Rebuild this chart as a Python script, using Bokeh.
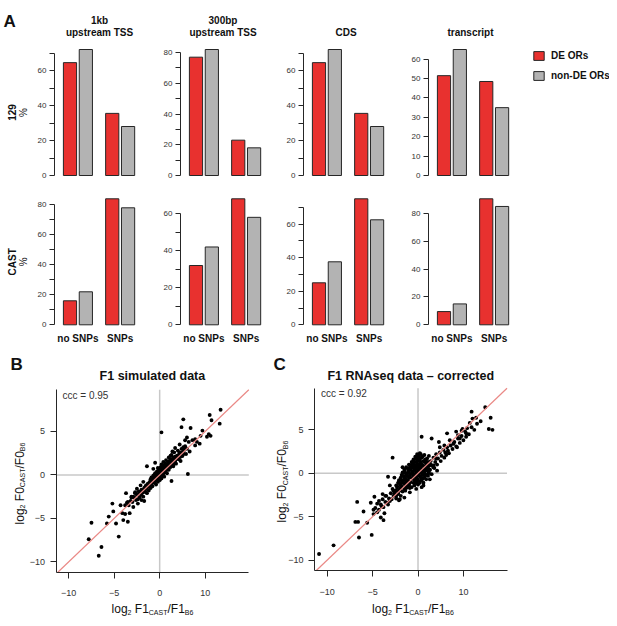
from math import pi
from bokeh.plotting import figure
from bokeh.layouts import column, row
from bokeh.models import FixedTicker, Range1d, Label, Legend, LegendItem
from bokeh.embed import file_html
from bokeh.resources import INLINE

# ---------------- data ----------------
region_titles = [["1kb", "upstream TSS"], ["300bp", "upstream TSS"], ["CDS"], ["transcript"]]
snp_labels = ["no SNPs", "SNPs"]
row_labels = ["129", "CAST"]
series_names = ["DE ORs", "non-DE ORs"]

# percentages: [no SNPs, SNPs] per region
de_129 = [[64.5, 35.5], [77, 23], [64.5, 35.5], [51.5, 48.5]]
nonde_129 = [[72, 28], [82, 18], [72, 28], [65, 35]]
de_cast = [[16, 84], [32, 68], [25, 75], [9.5, 90.5]]
nonde_cast = [[22, 78], [42, 58], [37.5, 62.5], [15, 85]]

yticks_129 = [[0, 20, 40, 60], [0, 20, 40, 60, 80], [0, 20, 40, 60], [0, 10, 20, 30, 40, 50, 60]]
yminor_129 = [[10, 30, 50, 70], [10, 30, 50, 70], [10, 30, 50, 70], []]
yticks_cast = [[0, 20, 40, 60, 80], [0, 20, 40, 60], [0, 20, 40, 60], [0, 20, 40, 60, 80]]
yminor_cast = [[10, 30, 50, 70], [10, 30, 50], [10, 30, 50, 70], []]

scatter_titles = ["F1 simulated data", "F1 RNAseq data \u2013 corrected"]
ccc_values = ["0.95", "0.92"]
scatter_ticks = [-10, -5, 0, 5]
scatter_xtick_labels = ["\u221210", "\u22125", "0", "10"]
scatter_ytick_labels = ["\u221210", "\u22125", "0", "5"]

# (log2 F1 ratio, log2 F0 ratio)
sim_points = [
    (6.7, 7.5), (5.5, 6.9), (5.7, 6.3), (6.6, 5.9), (2.6, 6.4), (0.2, 4.9), (2.4, 5.5), (3.4, 5.4),
    (4.7, 5.1), (5.4, 4.7), (5.2, 4.4), (5.6, 4.5), (4.5, 4.5), (3.9, 4.1), (3.0, 4.3), (2.8, 4.0),
    (3.2, 3.8), (3.6, 4.0), (4.1, 3.8), (4.4, 3.6), (3.9, 3.4), (3.3, 2.7), (2.6, 3.2), (2.2, 3.5),
    (1.7, 3.1), (1.4, 2.7), (1.2, 2.2), (2.2, 2.6), (2.5, 2.2), (3.1, 0.1), (1.3, -0.7), (2.1, 1.8),
    (1.7, 1.5), (1.0, 1.4), (0.6, 1.1), (-1.4, 1.0), (-0.7, 0.7), (-0.5, 1.4), (-1.8, -0.8),
    (-2.1, -1.2), (-2.5, -1.6), (-2.7, -2.0), (-3.7, -2.1), (-2.9, -2.5), (-3.1, -2.6), (-1.7, -3.0),
    (-2.4, -2.8), (-3.0, -3.1), (-3.5, -3.1), (-5.2, -3.3), (-4.3, -3.5), (-3.8, -3.5), (-5.1, -4.2),
    (-4.1, -4.4), (-3.8, -4.5), (-3.3, -4.4), (-2.9, -3.7), (-5.6, -4.8), (-4.0, -5.2), (-3.5, -5.4),
    (-5.8, -5.6), (-4.8, -5.6), (-7.5, -5.5), (-7.8, -7.4), (-4.5, -7.1), (-6.4, -8.3), (-6.7, -9.3),
    (-2.0, -2.3), (-2.0, -1.7), (-1.8, -2.0), (-1.7, -1.5), (-1.6, -1.9), (-1.5, -1.2), (-1.5, -1.6),
    (-1.4, -2.1), (-1.3, -1.0), (-1.3, -1.4), (-1.2, -1.8), (-1.1, -0.8), (-1.1, -1.2), (-1.0, -1.5),
    (-1.0, -0.5), (-0.9, -1.0), (-0.8, -0.3), (-0.8, -0.7), (-0.8, -1.3), (-0.7, -0.1), (-0.6, -0.5),
    (-0.6, -0.9), (-0.5, 0.2), (-0.5, -0.2), (-0.4, -0.6), (-0.4, -1.1), (-0.3, 0.4), (-0.3, 0.0),
    (-0.2, -0.4), (-0.2, -0.8), (-0.1, 0.6), (-0.1, 0.2), (0.0, -0.2), (0.0, -0.6), (0.1, 0.9),
    (0.1, 0.4), (0.2, 0.0), (0.2, -0.4), (0.3, 1.1), (0.3, 0.6), (0.4, 0.2), (0.4, 1.5), (0.5, 0.9),
    (0.5, -0.2), (0.6, 0.4), (0.6, 1.3), (0.7, 1.7), (0.7, 0.8), (0.8, 0.2), (0.9, 1.1), (0.9, 1.5),
    (1.0, 0.6), (1.0, 2.0), (1.1, 1.3), (1.2, 0.9), (1.2, 1.8), (1.3, 2.3), (1.4, 1.5), (1.5, 1.0),
    (1.5, 2.0), (1.6, 2.6), (1.7, 1.7), (1.8, 1.3), (1.9, 2.2), (2.0, 2.8), (2.1, 1.9), (2.2, 2.5),
    (2.3, 1.6), (2.4, 3.0), (2.5, 2.2), (2.6, 2.7), (2.8, 3.3), (2.9, 2.4), (3.0, 3.0),
    (-2.2, -2.6), (-2.3, -1.9), (-2.5, -2.3), (-2.6, -2.9), (-2.7, -2.1), (-2.8, -2.6), (-3.0, -3.1),
    (-3.1, -2.5), (-3.2, -3.0), (-2.0, -2.9), (-1.8, -2.5), (-2.4, -3.3), (-3.4, -3.5), (-3.6, -3.2),
    (-2.3, -2.2), (-2.1, -2.0), (-1.9, -1.8), (-1.7, -1.7), (-1.6, -1.4), (-1.4, -1.3), (-1.3, -1.2),
    (-1.2, -1.0), (-1.1, -1.0), (-1.0, -0.8), (-0.9, -0.7), (-0.9, -0.3), (-0.8, -0.5), (-0.7, -0.4),
    (-0.7, -0.8), (-0.6, -0.2), (-0.6, 0.0), (-0.5, -0.4), (-0.4, -0.2), (-0.4, 0.1), (-0.3, -0.2),
    (-0.3, 0.2), (-0.2, 0.0), (-0.2, 0.3), (-0.1, -0.1), (-0.1, 0.4), (0.0, 0.0), (0.0, 0.3),
    (0.1, 0.1), (0.1, 0.6), (0.2, 0.3), (0.2, 0.7), (0.3, 0.4), (0.3, 0.9), (0.4, 0.6), (0.5, 0.5),
    (0.5, 1.1), (0.6, 0.8), (0.7, 1.0), (0.8, 1.2), (0.8, 0.6), (0.9, 0.9), (1.0, 1.1), (1.1, 1.6),
    (1.2, 1.3), (1.3, 1.1), (1.4, 1.8), (1.5, 1.5), (1.6, 1.3), (1.7, 2.1), (1.8, 1.8), (2.0, 2.0),
    (2.1, 2.3), (2.3, 2.1), (2.4, 2.6), (2.6, 2.4), (2.7, 2.9), (-0.1, -0.4), (0.0, 0.7), (-0.2, 0.8),
    (0.2, 1.2), (-0.5, -0.7), (0.4, -0.1), (0.3, 0.0),
]

rna_points = [
    (-10.9, -9.3), (-9.3, -8.3), (-6.5, -7.4), (-5.1, -7.1), (-6.9, -5.6), (-6.6, -5.6), (-5.6, -5.7),
    (-6.7, -3.3), (-6.0, -4.4), (-5.2, -3.4), (-4.9, -4.2), (-4.8, -2.7), (-4.9, -4.7), (-4.5, -4.5),
    (-4.1, -5.1), (-3.8, -5.4), (-3.7, -4.6), (-4.0, -3.8), (-4.3, -3.2), (-3.9, -2.4), (-3.6, -2.6),
    (-3.4, -3.4), (-3.1, -3.2), (-2.8, 1.8), (-3.3, -0.4), (-2.6, -0.5), (-1.7, 0.7), (-1.5, 0.1),
    (-3.1, -1.4), (-2.7, -2.0), (-2.4, -2.6), (-2.0, -3.0), (-1.5, -2.8), (-0.9, -2.2), (-2.1, -1.0),
    (0.4, 4.2), (1.5, 4.0), (2.3, 3.6), (3.2, 4.6), (2.4, 3.0), (2.9, 3.2), (3.5, 3.8), (3.9, 3.4),
    (4.3, 3.0), (4.6, 4.0), (4.9, 5.1), (5.2, 4.8), (5.4, 5.2), (5.7, 5.8), (5.9, 7.1), (6.0, 6.3),
    (6.4, 6.4), (7.4, 7.6), (8.0, 6.4), (7.8, 5.1), (8.2, 5.0), (4.2, 4.8), (4.8, 4.9), (5.3, 4.2),
    (4.4, 4.4), (3.1, 2.1), (3.3, 2.6), (2.0, 1.7), (2.1, 0.3), (1.7, 0.9), (1.1, -0.1), (1.3, -0.7),
    (0.6, -1.4), (-0.2, -1.8),
    (-2.0, -1.9), (-2.0, -1.2), (-1.9, -0.7), (-1.8, -1.5), (-1.7, -2.1), (-1.7, -0.9), (-1.6, -0.3),
    (-1.5, -1.2), (-1.5, -1.8), (-1.4, -0.6), (-1.3, 0.0), (-1.3, -1.0), (-1.2, -1.6), (-1.2, -0.3),
    (-1.1, 0.4), (-1.1, -0.8), (-1.0, -1.3), (-1.0, 0.1), (-0.9, -0.5), (-0.9, 0.7), (-0.8, -1.0),
    (-0.8, -0.1), (-0.8, 0.4), (-0.7, -1.6), (-0.7, 1.0), (-0.6, -0.6), (-0.6, 0.2), (-0.5, 0.7),
    (-0.5, -0.2), (-0.5, -1.1), (-0.4, 1.3), (-0.4, 0.4), (-0.3, -0.4), (-0.3, -0.9), (-0.3, 0.9),
    (-0.2, 1.7), (-0.2, 0.1), (-0.1, -0.6), (-0.1, 0.5), (-0.1, 1.2), (0.0, -1.3), (0.0, 2.0),
    (0.0, -0.2), (0.1, 0.8), (0.1, 0.3), (0.1, 1.5), (0.2, -0.9), (0.2, -0.3), (0.2, 2.3), (0.3, 0.6),
    (0.3, 1.1), (0.4, -1.6), (0.4, 0.1), (0.4, 1.8), (0.5, -0.6), (0.5, 0.9), (0.6, 0.4), (0.6, 1.4),
    (0.6, -1.1), (0.7, 2.1), (0.8, -0.2), (0.8, 0.8), (0.9, 1.3), (0.9, -0.7), (1.0, 0.3), (1.0, 1.7),
    (1.1, -0.3), (1.2, 0.9), (1.2, 2.0), (1.3, 0.4), (1.4, 1.4), (1.5, -0.1), (1.5, 0.9), (1.7, 1.8),
    (1.8, 0.6), (1.9, 1.3), (2.0, 2.2), (2.1, 1.0), (2.2, 1.7), (2.4, 2.4), (2.5, 1.4), (2.6, 2.0),
    (2.8, 2.7), (2.9, 1.8), (3.0, 2.4), (3.2, 3.0), (3.4, 2.3), (3.6, 3.2), (3.8, 2.8), (4.0, 3.6),
    (4.2, 3.1), (4.4, 4.0), (4.6, 3.5), (4.8, 4.3), (5.0, 3.8), (5.3, 4.6), (5.6, 4.5), (5.9, 5.3),
    (6.2, 5.0), (6.5, 5.7), (6.9, 6.0),
    (-2.2, -2.4), (-2.3, -1.5), (-2.4, -2.9), (-2.5, -2.0), (-2.7, -2.6), (-2.8, -1.8), (-2.9, -3.0),
    (-3.0, -2.3), (-3.2, -2.9), (-3.3, -3.6), (-3.5, -2.6), (-3.6, -3.3), (-3.8, -3.9), (-3.9, -3.0),
    (-4.1, -3.6), (-4.3, -4.2), (-4.5, -3.5), (-4.7, -4.0), (-1.9, -2.6), (-2.1, -3.1),
    (-0.1, 2.2), (0.3, 2.2), (-0.3, 1.9), (0.1, 1.9), (0.5, 1.9), (-0.5, 1.6), (-0.1, 1.6),
    (0.2, 1.6), (0.8, 1.6), (-0.7, 1.3), (-0.2, 1.3), (0.3, 1.3), (0.7, 1.3), (1.1, 1.3),
    (-1.0, 1.0), (-0.5, 1.0), (0.0, 1.0), (0.4, 1.0), (0.9, 1.0), (1.4, 1.0), (-1.3, 0.7),
    (-0.7, 0.7), (-0.2, 0.7), (0.2, 0.7), (0.7, 0.7), (1.1, 0.7), (1.7, 0.7), (-1.5, 0.4),
    (-0.9, 0.4), (-0.4, 0.4), (0.0, 0.4), (0.5, 0.4), (0.9, 0.4), (1.3, 0.4), (-1.7, 0.1),
    (-1.1, 0.1), (-0.6, 0.1), (-0.2, 0.1), (0.3, 0.1), (0.7, 0.1), (1.2, 0.1), (-1.8, -0.2),
    (-1.3, -0.2), (-0.9, -0.2), (-0.4, -0.2), (0.1, -0.2), (0.5, -0.2), (1.0, -0.2), (-1.9, -0.5),
    (-1.5, -0.5), (-1.0, -0.5), (-0.6, -0.5), (-0.2, -0.5), (0.3, -0.5), (0.7, -0.5), (-2.1, -0.8),
    (-1.6, -0.8), (-1.2, -0.8), (-0.4, -0.8), (0.0, -0.8), (0.4, -0.8), (-2.2, -1.1), (-1.8, -1.1),
    (-1.3, -1.1), (-0.9, -1.1), (-0.2, -1.1), (0.2, -1.1), (-2.4, -1.4), (-1.9, -1.4), (-1.4, -1.4),
    (-1.0, -1.4), (-0.4, -1.4), (-2.3, -1.7), (-1.9, -1.7), (-1.3, -1.7), (-0.9, -1.7), (-2.4, -2.0),
    (-2.0, -2.0), (-1.4, -2.0), (-2.6, -2.3), (-2.2, -2.3),
]

# ---------------- style / layout (picture pixel positions) ----------------
FONT = "Liberation Sans"
RED = "#E8312F"
GREY = "#B3B3B3"
EDGE = "#262626"
TXT = "#333333"
DARK = "#111111"

DE_X = [1.5, 4.7]
ND_X = [2.7, 5.9]
GROUP_X = [2.1, 5.3]
BAR_PX = 13.2             # pixels per bar unit
AX = [54, 180, 303, 428]  # y-axis line x
COL_X0 = [0, 138, 264, 387]
COL_W = [138, 126, 123, 125]
LEGEND_W = 97
ROW_Y0 = [0, 186]
ROW_H = [186, 159]
ZERO_Y = [175, 324.3]
TOP_Y = [49, 198.3]
TITLE_X = [99, 222.5, 345.5, 470]

X_LO, X_HI, Y_LO, Y_HI = -11.4, 9.8, -11.2, 9.8
SC_X0 = [0, 270]
SC_W = [270, 247]
SC_Y0, SC_H = 345, 273
BOX = [(55.5, 248.3, 389.3, 571.7), (314, 506.5, 387.7, 570)]


def frame_fig(X0, Y0, W, H, xd0, xp0, xs, yd0, yp0, ys):
    fx = lambda px: xd0 + (px - xp0) / xs
    fy = lambda py: yd0 + (yp0 - py) / ys
    p = figure(width=W, height=H, x_range=Range1d(fx(X0), fx(X0 + W)),
               y_range=Range1d(fy(Y0 + H), fy(Y0)), min_border=0, title=None,
               output_backend="svg", toolbar_location=None)
    p.outline_line_color = None
    p.xgrid.visible = False
    p.ygrid.visible = False
    return p, fx, fy


def put(p, fx, fy, px, py, text, size, bold=False, align="center",
        baseline="middle", angle=0, color=DARK):
    p.add_layout(Label(x=fx(px), y=fy(py), text=text, text_font=FONT,
                       text_font_size=f"{size}px",
                       text_font_style="bold" if bold else "normal",
                       text_align=align, text_baseline=baseline, angle=angle,
                       text_color=color))


def make_bar(ci, ri):
    de = (de_129 if ri == 0 else de_cast)[ci]
    nd = (nonde_129 if ri == 0 else nonde_cast)[ci]
    majors = (yticks_129 if ri == 0 else yticks_cast)[ci]
    minors = (yminor_129 if ri == 0 else yminor_cast)[ci]
    ymax = max(de + nd)
    W = COL_W[ci] + (LEGEND_W if (ri == 0 and ci == 3) else 0)
    ys = (ZERO_Y[ri] - TOP_Y[ri]) / ymax
    p, fx, fy = frame_fig(COL_X0[ci], ROW_Y0[ri], W, ROW_H[ri],
                          1.5, AX[ci] + 15.5, BAR_PX, 0, ZERO_Y[ri], ys)
    r_de = p.vbar(x=DE_X, top=de, bottom=0, width=1, fill_color=RED,
                  line_color=EDGE, line_width=1)
    r_nd = p.vbar(x=ND_X, top=nd, bottom=0, width=1, fill_color=GREY,
                  line_color=EDGE, line_width=1)

    ya = p.yaxis[0]
    ya.fixed_location = fx(AX[ci])
    ya.ticker = FixedTicker(ticks=majors, minor_ticks=minors)
    ya.bounds = (0, max(majors + minors))
    ya.major_tick_out = 5
    ya.major_tick_in = 0
    ya.minor_tick_out = 5
    ya.minor_tick_in = 0
    ya.axis_line_color = EDGE
    ya.major_tick_line_color = EDGE
    ya.minor_tick_line_color = EDGE
    ya.major_label_text_font = FONT
    ya.major_label_text_font_size = "8px"
    ya.major_label_text_color = TXT
    ya.major_label_standoff = 3

    xa = p.xaxis[0]
    if ri == 0:
        xa.visible = False
        lines = region_titles[ci]
        ys_title = [20, 32] if len(lines) == 2 else [32]
        for t, yy in zip(lines, ys_title):
            put(p, fx, fy, TITLE_X[ci], yy, t, 10, bold=True)
    else:
        xa.fixed_location = 0
        xa.ticker = FixedTicker(ticks=GROUP_X)
        xa.major_label_overrides = dict(zip(GROUP_X, snp_labels))
        xa.axis_line_color = None
        xa.major_tick_line_color = None
        xa.major_tick_out = 0
        xa.major_tick_in = 0
        xa.major_label_standoff = 8
        xa.major_label_text_font = FONT
        xa.major_label_text_font_size = "10px"
        xa.major_label_text_font_style = "bold"
        xa.major_label_text_color = DARK

    if ci == 0:
        mid = (ZERO_Y[ri] + TOP_Y[ri]) / 2
        put(p, fx, fy, 11.5, mid, row_labels[ri], 10, bold=True, angle=pi / 2)
        put(p, fx, fy, 23, mid, "%", 10, angle=pi / 2)
        if ri == 0:
            put(p, fx, fy, 3, 20.5, "A", 17, bold=True, align="left", baseline="alphabetic")

    if ri == 0 and ci == 3:
        legend = Legend(items=[LegendItem(label=series_names[0], renderers=[r_de]),
                               LegendItem(label=series_names[1], renderers=[r_nd])],
                        location=(532 - COL_X0[3], ROW_Y0[0] + ROW_H[0] - 49 - 32),
                        orientation="vertical",
                        glyph_width=13, glyph_height=11, label_height=12,
                        spacing=8, padding=0, margin=0, label_standoff=6,
                        label_text_font=FONT, label_text_font_size="10px",
                        label_text_font_style="bold", label_text_color=DARK,
                        border_line_color=None, background_fill_alpha=0)
        p.add_layout(legend)
    return p


AW = {'l': .222, 'o': .556, 'g': .556, '2': .556, ' ': .278, 'F': .611, '1': .556,
      '0': .556, 'C': .722, 'A': .667, 'S': .667, 'T': .611, '/': .278, 'B': .667, '6': .556}


def ratio_label(p, fx, fy, gen, horizontal, center, base):
    # (text, font px, subscript?, gap before in px)
    segs = [("log", 12, 0, 0), ("2", 7, 1, 0), ("F" + gen, 12, 0, 3.3), ("CAST", 7, 1, 0),
            ("/F" + gen, 12, 0, 0), ("B6", 7, 1, 0)]
    widths = [sum(AW[c] for c in t) * s for t, s, _, _ in segs]
    total = sum(widths) + sum(g for *_, g in segs)
    if horizontal:
        pos = center - total / 2
        for (t, s, sub, gap), w in zip(segs, widths):
            pos += gap
            put(p, fx, fy, pos, base + 3 * sub, t, s, align="left", baseline="alphabetic")
            pos += w
    else:
        pos = center + total / 2
        for (t, s, sub, gap), w in zip(segs, widths):
            pos -= gap
            put(p, fx, fy, base + 3 * sub, pos, t, s, align="left",
                baseline="alphabetic", angle=pi / 2)
            pos -= w


def make_scatter(k):
    pts = sim_points if k == 0 else rna_points
    left, right, top, bottom = BOX[k]
    xs = (right - left) / (X_HI - X_LO)
    ys = (bottom - top) / (Y_HI - Y_LO)
    p, fx, fy = frame_fig(SC_X0[k], SC_Y0, SC_W[k], SC_H, X_LO, left, xs, Y_LO, bottom, ys)

    p.segment(x0=[0, X_LO], y0=[Y_LO, 0], x1=[0, X_HI], y1=[Y_HI, 0],
              line_color="#C8C8C8", line_width=1.5)
    p.scatter(x=[q[0] for q in pts], y=[q[1] for q in pts], size=3.9,
              fill_color="black", line_color=None)
    lo, hi = max(X_LO, Y_LO), min(X_HI, Y_HI)
    p.line(x=[lo, hi], y=[lo, hi], line_color="#EA8986", line_width=1.2)

    xa, ya = p.xaxis[0], p.yaxis[0]
    xa.fixed_location = Y_LO
    xa.bounds = (X_LO, X_HI)
    ya.fixed_location = X_LO
    ya.bounds = (Y_LO, Y_HI)
    for ax, labels in ((xa, scatter_xtick_labels), (ya, scatter_ytick_labels)):
        ax.ticker = FixedTicker(ticks=scatter_ticks)
        ax.major_label_overrides = dict(zip(scatter_ticks, labels))
        ax.major_tick_out = 6
        ax.major_tick_in = 0
        ax.minor_tick_line_color = None
        ax.axis_line_color = EDGE
        ax.major_tick_line_color = EDGE
        ax.major_label_text_font = FONT
        ax.major_label_text_font_size = "9px"
        ax.major_label_text_color = TXT
    xa.major_label_standoff = 12
    ya.major_label_standoff = 5

    cx = (left + right) / 2
    put(p, fx, fy, cx, 375, scatter_titles[k], 12.5, bold=True)
    put(p, fx, fy, 10 if k == 0 else 273, 363.5, "B" if k == 0 else "C", 17,
        bold=True, align="left", baseline="alphabetic")
    put(p, fx, fy, left + 6.5, top + 5.5, "ccc = " + ccc_values[k], 10,
        align="left", color=TXT)
    if k == 0:
        ratio_label(p, fx, fy, "1", True, 152, 608.5)
        ratio_label(p, fx, fy, "0", False, 483, 19)
    else:
        ratio_label(p, fx, fy, "1", True, 412.5, 608.5)
        ratio_label(p, fx, fy, "0", False, 481, 281.5)
    return p


row1 = row(*[make_bar(c, 0) for c in range(4)])
row2 = row(*[make_bar(c, 1) for c in range(4)])
row3 = row(make_scatter(0), make_scatter(1))
layout = column(row1, row2, row3)

open("out.html", "w").write(file_html(layout, INLINE))
